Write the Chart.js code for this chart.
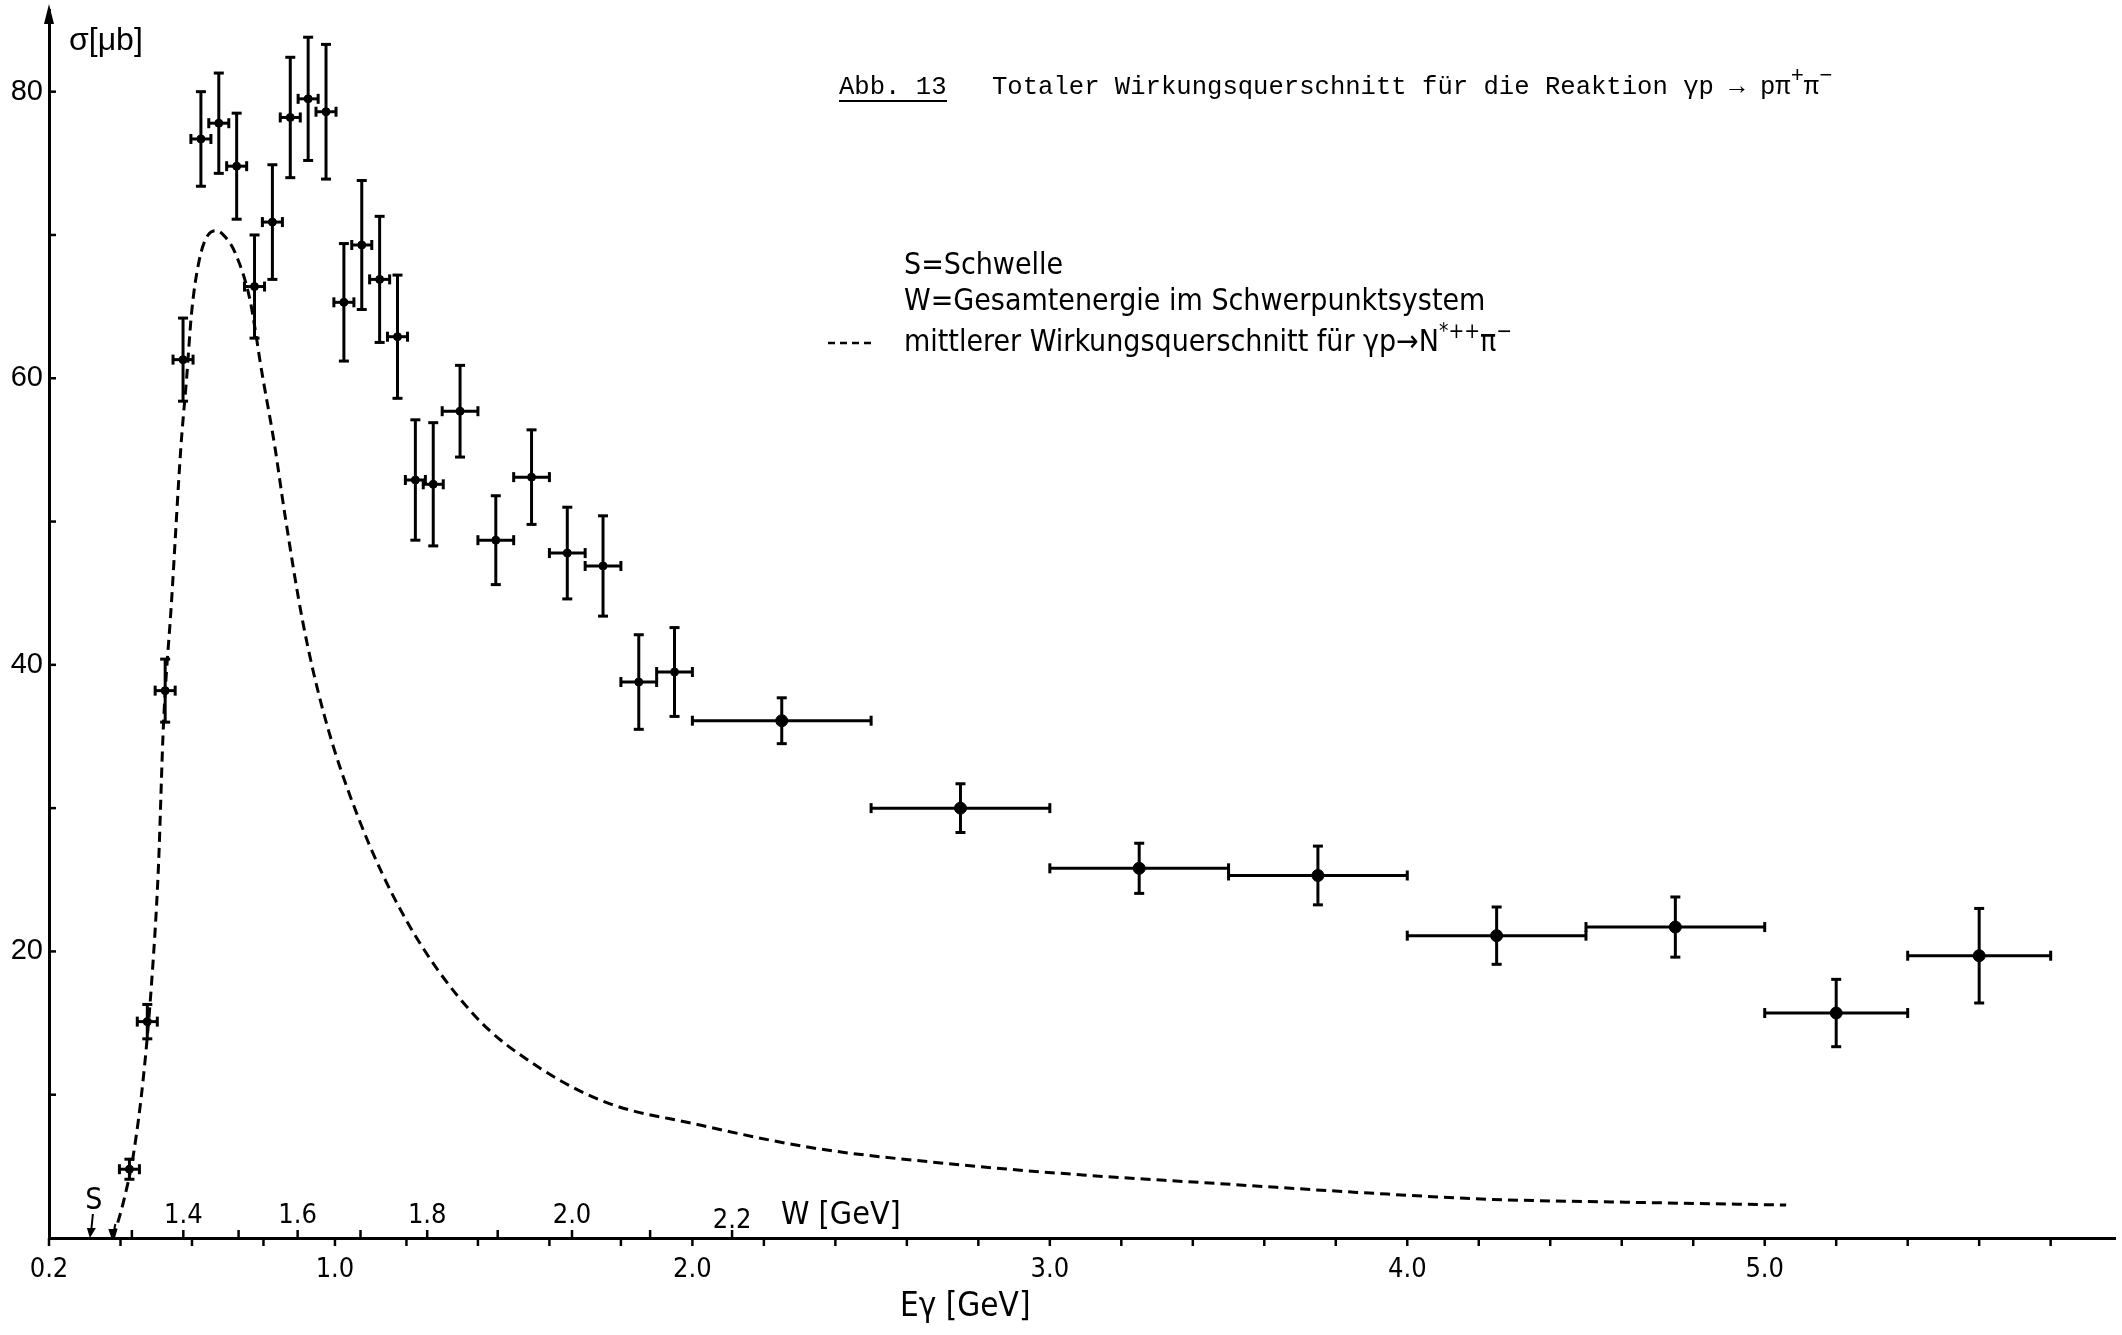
<!DOCTYPE html>
<html>
<head>
<meta charset="utf-8">
<script src="https://cdn.jsdelivr.net/npm/chart.js@4.4.0/dist/chart.umd.min.js"></script>
<style>
  html, body { margin: 0; padding: 0; background: #fff; }
  #chart { display: block; }
</style>
</head>
<body>
<canvas id="chart" width="2122" height="1335"></canvas>
<script>
// measured points: photon energy (GeV), total cross section (µb)
const eGamma = [0.425, 0.475, 0.525, 0.575, 0.625, 0.675, 0.725, 0.775, 0.825, 0.875, 0.925,
  0.975, 1.025, 1.075, 1.125, 1.175, 1.225, 1.275, 1.35, 1.45, 1.55, 1.65, 1.75, 1.85, 1.95,
  2.25, 2.75, 3.25, 3.75, 4.25, 4.75, 5.2, 5.6];
const sigma = [4.8, 15.1, 38.2, 61.3, 76.7, 77.8, 74.8, 66.4, 70.9, 78.2, 79.5,
  78.6, 65.3, 69.3, 66.9, 62.9, 52.9, 52.6, 57.7, 48.7, 53.1, 47.8, 46.9, 38.8, 39.5,
  36.1, 30.0, 25.8, 25.3, 21.1, 21.7, 15.7, 19.7];
const sigmaErr = [0.7, 1.2, 2.2, 2.9, 3.3, 3.5, 3.7, 3.6, 4.0, 4.2, 4.3,
  4.7, 4.1, 4.5, 4.4, 4.3, 4.2, 4.3, 3.2, 3.1, 3.3, 3.2, 3.5, 3.3, 3.1,
  1.6, 1.7, 1.75, 2.05, 2.0, 2.1, 2.35, 3.3];
const eGammaErr = [0.028, 0.028, 0.028, 0.028, 0.028, 0.028, 0.028, 0.028, 0.028, 0.028, 0.028,
  0.028, 0.028, 0.028, 0.028, 0.028, 0.028, 0.028, 0.05, 0.05, 0.05, 0.05, 0.05, 0.05, 0.05,
  0.25, 0.25, 0.25, 0.25, 0.25, 0.25, 0.2, 0.2];

// mean cross section for gamma p -> N*++ pi- (dashed curve)
const curveE = [0.38, 0.41, 0.436, 0.464, 0.487, 0.506, 0.52, 0.543, 0.569, 0.585, 0.599, 0.62,
  0.645, 0.669, 0.695, 0.72, 0.762, 0.795, 0.832, 0.858, 0.91, 0.971, 1.066, 1.199, 1.388,
  1.577, 1.766, 2.0, 2.334, 2.71, 3.09, 3.47, 3.85, 4.23, 4.61, 5.06];
const curveSigma = [0, 2.7, 5.8, 11.2, 17.8, 25.8, 35.7, 44.5, 55.2, 60, 64.6, 68.2,
  70.0, 70.3, 69.8, 68.8, 65.5, 60.5, 55.2, 50.8, 43.0, 36.4, 29.3, 22.2, 15.6,
  11.8, 9.4, 8.0, 6.3, 5.2, 4.4, 3.8, 3.2, 2.7, 2.5, 2.3];

// axes
const xTickLabels = [0.2, 1.0, 2.0, 3.0, 4.0, 5.0];
const yTickLabels = [20, 40, 60, 80];
const wTicks = [1.3, 1.4, 1.5, 1.6, 1.7, 1.8, 1.9, 2.0, 2.1, 2.2];
const wTickLabels = ['1.4', '1.6', '1.8', '2.0', '2.2'];
const thresholdE = 0.32;

const M_P = 0.938;
const eFromW = w => (w * w - M_P * M_P) / (2 * M_P);

const NARROW = "'Liberation Sans Narrow', 'DejaVu Sans Condensed', sans-serif";
const LETTER = "'DejaVu Sans Condensed', 'DejaVu Sans', sans-serif";
const MONO = "'Liberation Mono', 'DejaVu Sans Mono', monospace";
const SANS = "'Liberation Sans', Arial, sans-serif";

function line(ctx, x1, y1, x2, y2) {
  ctx.beginPath();
  ctx.moveTo(x1, y1);
  ctx.lineTo(x2, y2);
  ctx.stroke();
}

function richText(ctx, x, y, parts, font, supFont, rise) {
  parts.forEach(p => {
    ctx.font = p.sup ? supFont : font;
    ctx.fillText(p.t, x, p.sup ? y - rise : y);
    x += ctx.measureText(p.t).width;
  });
  return x;
}

function noOverflow(s) {
  s.paddingTop = 0;
  s.paddingBottom = 0;
  s.paddingLeft = 0;
  s.paddingRight = 0;
}

const paper = {
  id: 'paper',
  beforeDraw(chart) {
    const ctx = chart.ctx;
    ctx.save();
    ctx.fillStyle = '#fff';
    ctx.fillRect(0, 0, chart.width, chart.height);
    ctx.restore();
  }
};

const errorBars = {
  id: 'errorBars',
  beforeDatasetsDraw(chart) {
    const { ctx, scales: { x, y } } = chart;
    ctx.save();
    ctx.strokeStyle = '#000';
    ctx.lineWidth = 3;
    eGamma.forEach((e, i) => {
      const px = x.getPixelForValue(e);
      const py = y.getPixelForValue(sigma[i]);
      const top = y.getPixelForValue(sigma[i] + sigmaErr[i]);
      const bot = y.getPixelForValue(sigma[i] - sigmaErr[i]);
      const l = x.getPixelForValue(e - eGammaErr[i]);
      const r = x.getPixelForValue(e + eGammaErr[i]);
      line(ctx, px, top, px, bot);
      line(ctx, px - 5, top, px + 5, top);
      line(ctx, px - 5, bot, px + 5, bot);
      line(ctx, l, py, r, py);
      line(ctx, l, py - 5, l, py + 5);
      line(ctx, r, py - 5, r, py + 5);
    });
    ctx.restore();
  }
};

const decorations = {
  id: 'decorations',
  afterDraw(chart) {
    const { ctx, chartArea: a, scales: { x, y } } = chart;
    ctx.save();
    ctx.strokeStyle = '#000';
    ctx.fillStyle = '#000';
    ctx.lineWidth = 2.5;

    // y ticks, pointing into the plot
    for (let v = 10; v <= 80; v += 10) {
      const py = y.getPixelForValue(v);
      line(ctx, a.left, py, a.left + 7, py);
    }
    // E gamma ticks below the axis
    for (let k = 1; k <= 29; k++) {
      const px = x.getPixelForValue(k * 0.2);
      line(ctx, px, a.bottom, px, a.bottom + 8);
    }
    // W ticks above the axis
    wTicks.forEach(w => {
      const px = x.getPixelForValue(eFromW(w));
      line(ctx, px, a.bottom, px, a.bottom - 8);
    });
    ctx.font = '27px ' + NARROW;
    ctx.textAlign = 'center';
    ctx.textBaseline = 'middle';
    wTickLabels.forEach((t, i) => {
      const px = x.getPixelForValue(eFromW(parseFloat(t)));
      ctx.fillText(t, px, i === wTickLabels.length - 1 ? 1221 : 1216);
    });
    ctx.textAlign = 'left';
    ctx.font = '32px ' + NARROW;
    ctx.fillText('W [GeV]', 781, 1216);

    // threshold arrow
    const sx = x.getPixelForValue(thresholdE);
    ctx.font = '30px ' + NARROW;
    ctx.textAlign = 'center';
    ctx.fillText('S', sx + 2, 1201);
    ctx.lineWidth = 2;
    line(ctx, sx + 1, 1214, sx - 1, a.bottom - 4);
    ctx.beginPath();
    ctx.moveTo(sx - 5, a.bottom - 10);
    ctx.lineTo(sx + 4, a.bottom - 10);
    ctx.lineTo(sx - 2, a.bottom);
    ctx.fill();
    const s2 = x.getPixelForValue(curveE[0]);
    line(ctx, s2 + 2, 1224, s2, a.bottom - 4);
    ctx.beginPath();
    ctx.moveTo(s2 - 5, a.bottom - 9);
    ctx.lineTo(s2 + 4, a.bottom - 9);
    ctx.lineTo(s2 - 2, a.bottom);
    ctx.fill();

    // arrow on top of y axis
    ctx.beginPath();
    ctx.moveTo(a.left, a.top - 6);
    ctx.lineTo(a.left - 5, a.top + 14);
    ctx.lineTo(a.left + 5, a.top + 14);
    ctx.closePath();
    ctx.fill();

    // axis titles
    ctx.textAlign = 'left';
    ctx.font = '32px ' + SANS;
    ctx.fillText('σ[μb]', 69, 41);
    ctx.font = '33px ' + NARROW;
    ctx.fillText('Eγ [GeV]', 900, 1307);

    // caption
    const mono = '25.6px ' + MONO;
    ctx.font = mono;
    ctx.textBaseline = 'alphabetic';
    ctx.fillText('Abb. 13', 839, 94);
    ctx.lineWidth = 2;
    line(ctx, 839, 101, 947, 101);
    richText(ctx, 992, 94, [
      { t: 'Totaler Wirkungsquerschnitt für die Reaktion γp → pπ' },
      { t: '+', sup: true },
      { t: 'π' },
      { t: '−', sup: true }
    ], mono, '22px ' + MONO, 12);

    // legend block
    const lf = '30px ' + LETTER;
    ctx.font = lf;
    ctx.textBaseline = 'middle';
    ctx.fillText('S=Schwelle', 904, 266);
    ctx.fillText('W=Gesamtenergie im Schwerpunktsystem', 904, 302);
    richText(ctx, 904, 343, [
      { t: 'mittlerer Wirkungsquerschnitt für γp→N' },
      { t: '*++', sup: true },
      { t: 'π' },
      { t: '−', sup: true }
    ], lf, '21px ' + LETTER, 10);
    ctx.lineWidth = 2.5;
    ctx.setLineDash([7, 5]);
    line(ctx, 828, 343, 872, 343);
    ctx.restore();
  }
};

new Chart(document.getElementById('chart'), {
  type: 'scatter',
  data: {
    datasets: [
      {
        label: 'σ(γp → pπ+π−)',
        data: eGamma.map((e, i) => ({ x: e, y: sigma[i] })),
        pointRadius: c => (eGammaErr[c.dataIndex] >= 0.2 ? 6 : 4),
        pointBackgroundColor: '#000',
        pointBorderColor: '#000',
        showLine: false
      },
      {
        type: 'line',
        label: 'γp → N*++π−',
        data: curveE.map((e, i) => ({ x: e, y: curveSigma[i] })),
        borderColor: '#000',
        borderWidth: 3,
        borderDash: [10, 6],
        pointRadius: 0,
        fill: false,
        cubicInterpolationMode: 'monotone'
      }
    ]
  },
  options: {
    responsive: false,
    animation: false,
    devicePixelRatio: 1,
    layout: { padding: { top: 10, right: 7, left: 0, bottom: 0 } },
    plugins: { legend: { display: false }, tooltip: { enabled: false } },
    scales: {
      x: {
        type: 'linear',
        min: 0.2,
        max: 5.98,
        afterBuildTicks: s => { s.ticks = xTickLabels.map(v => ({ value: v })); },
        afterFit: s => { s.height = 97; noOverflow(s); },
        grid: { drawOnChartArea: false, drawTicks: false },
        border: { color: '#000', width: 3 },
        ticks: {
          padding: 16,
          color: '#000',
          maxRotation: 0,
          autoSkip: false,
          font: { family: NARROW, size: 27 },
          callback: v => v.toFixed(1)
        }
      },
      y: {
        type: 'linear',
        min: 0,
        max: 85.7,
        afterBuildTicks: s => { s.ticks = yTickLabels.map(v => ({ value: v })); },
        afterFit: s => { s.width = 49; noOverflow(s); },
        grid: { drawOnChartArea: false, drawTicks: false },
        border: { color: '#000', width: 3 },
        ticks: {
          padding: 6,
          color: '#000',
          font: { family: SANS, size: 29 },
          callback: v => String(v)
        }
      }
    }
  },
  plugins: [paper, errorBars, decorations]
});
</script>
</body>
</html>
